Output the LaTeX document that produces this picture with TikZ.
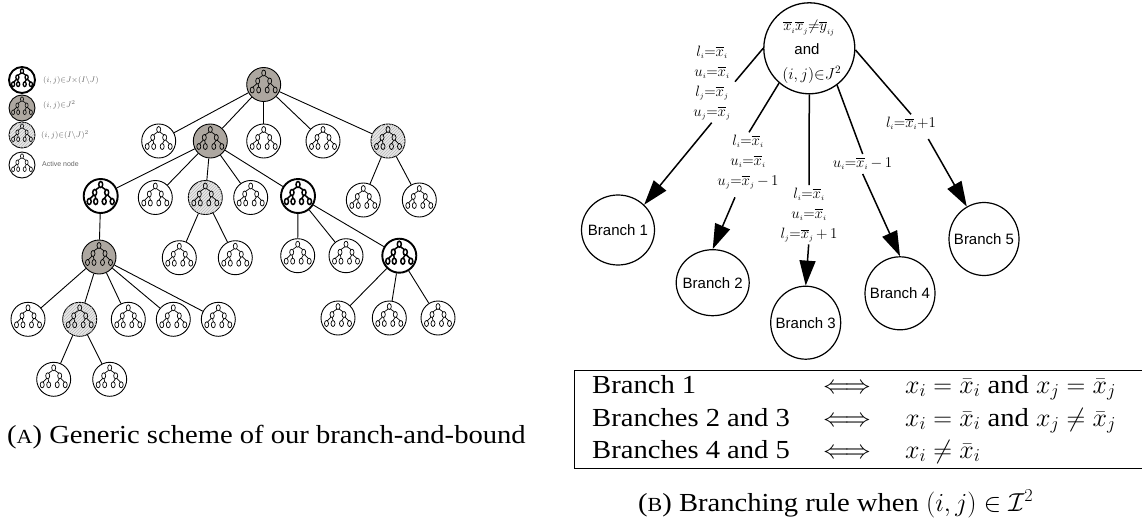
\documentclass[tikz,border=0pt]{standalone}
\usepackage{fix-cm}
\usepackage{amsmath,amssymb}
\usepackage[no-math]{fontspec}
\setmainfont{Liberation Serif}[FakeStretch=1.1]
\newfontfamily\sansf{Liberation Sans}
\usetikzlibrary{patterns,arrows.meta,shapes.geometric}
\definecolor{darkn}{RGB}{173,167,160}
\definecolor{hatchn}{RGB}{232,232,232}
\newcommand\sbs[1]{_{\scriptscriptstyle #1}}
\newcommand\ox[1]{\overline{x}\sbs{#1}}
\newcommand\eqn[3]{$#1\sbs{#2}{=}\ox{#3}$}
\newcommand\treenode[4]{\node[#1] (#3) at (#4) {}; \pic[#2] at (#3) {minitree};}
\tikzset{
  x=1pt,y=-1pt,
  wnode/.style={circle,draw,line width=.9pt,fill=white,minimum size=34pt,inner sep=0pt},
  dnode/.style={wnode,fill=darkn},
  hnode/.style={wnode,fill=hatchn,postaction={pattern=north east lines,pattern color=gray!55}},
  tnode/.style={wnode,line width=1.9pt},
  lw/.style={wnode,minimum size=26pt},
  ld/.style={dnode,minimum size=26pt},
  lh/.style={hnode,minimum size=26pt},
  lt/.style={tnode,minimum size=26pt},
  icon/.style={line width=.7pt},
  iconb/.style={line width=1.5pt},
  licon/.style={line width=.6pt,scale=.77},
  liconb/.style={line width=1.3pt,scale=.77},
  minitree/.pic={
    \draw (0,-11.5) ellipse [x radius=2,y radius=3];
    \foreach \px in {-6,6} \draw (\px,-3.5) ellipse [x radius=2,y radius=3];
    \foreach \px in {-11.5,-5,3.5,11.5} \draw (\px,5.5) ellipse [x radius=2,y radius=3];
    \draw (-1.2,-8.9)--(-5,-6.2) (1.2,-8.9)--(5,-6.2)
      (-7,-.9)--(-10.8,2.8) (-5.6,-.5)--(-5,2.5) (5.6,-.5)--(3.8,2.5) (7,-.9)--(10.8,2.8);
  },
  edge1/.style={line width=.9pt},
  bcirc/.style={ellipse,draw,line width=1.2pt,inner sep=0pt,label={[font=\sansf\fontsize{15}{18}\selectfont,inner sep=0pt]center:#1}},
  blink/.style={line width=1.5pt},
  barrow/.style={blink,-{Triangle[length=25pt,width=16pt]}},
  lab/.style={align=center,inner sep=0pt,font=\fontsize{15}{20}\selectfont},
  legend/.style={text=black!60,font=\fontsize{8}{10}\selectfont,anchor=west,inner sep=0pt},
  tabt/.style={font=\fontsize{26}{32}\selectfont,anchor=base west,inner sep=0pt},
  capt/.style={font=\fontsize{26}{32}\selectfont,anchor=base west,inner sep=0pt},
}
\begin{document}
\begin{tikzpicture}
\useasboundingbox (0,0) rectangle (1142,522);
% legend
\treenode{lt}{liconb}{l1}{22,80}
\treenode{ld}{licon}{l2}{22,108}
\treenode{lh}{licon}{l3}{22,135}
\treenode{lw}{licon}{l4}{22,165}
\node[legend] (lt1) at (43,80) {$(i,j){\in}J{\times}(I{\setminus}J)$};
\node[legend] (lt2) at (43,105) {$(i,j){\in}J^2$};
\node[legend] (lt3) at (41,135) {$(i,j){\in}(I{\setminus}J)^2$};
\node[legend,font=\sansf\fontsize{7}{9}\selectfont] (lt4) at (42,164) {Active node};
% tree
\treenode{dnode}{icon}{r}{263.7,84.5}
\treenode{wnode}{icon}{a1}{158.7,141}
\treenode{dnode}{icon}{a2}{210.3,141}
\treenode{wnode}{icon}{a3}{263.7,141}
\treenode{wnode}{icon}{a4}{323,141}
\treenode{hnode}{icon}{a5}{388,141}
\treenode{tnode}{iconb}{b1}{100.7,196}
\treenode{wnode}{icon}{b2}{155.3,197.5}
\treenode{hnode}{icon}{b3}{205.3,197.5}
\treenode{wnode}{icon}{b4}{250.7,197.5}
\treenode{tnode}{iconb}{b5}{298,196}
\treenode{wnode}{icon}{c1}{363.3,200}
\treenode{wnode}{icon}{c2}{419.3,200}
\treenode{dnode}{icon}{d1}{99,257}
\treenode{wnode}{icon}{d2}{179.3,257.7}
\treenode{wnode}{icon}{d3}{235.3,257.7}
\treenode{wnode}{icon}{d4}{297.7,255.7}
\treenode{wnode}{icon}{d5}{346,255.7}
\treenode{tnode}{iconb}{d6}{399.3,255.7}
\treenode{wnode}{icon}{e1}{28,319.3}
\treenode{hnode}{icon}{e2}{79.7,319.3}
\treenode{wnode}{icon}{e3}{128.3,319.3}
\treenode{wnode}{icon}{e4}{173.3,319.3}
\treenode{wnode}{icon}{e5}{218.3,319.3}
\treenode{wnode}{icon}{e6}{338,318}
\treenode{wnode}{icon}{e7}{389.3,318}
\treenode{wnode}{icon}{e8}{438,318}
\treenode{wnode}{icon}{f1}{53.7,379.3}
\treenode{wnode}{icon}{f2}{109.7,379.3}
\foreach \u/\v in {r/a1,r/a2,r/a3,r/a4,r/a5,a2/b1,a2/b2,a2/b3,a2/b4,a2/b5,a5/c1,a5/c2,b1/d1,b3/d2,b3/d3,b5/d4,b5/d5,b5/d6,d1/e1,d1/e2,d1/e3,d1/e4,d1/e5,d6/e6,d6/e7,d6/e8,e2/f1,e2/f2}
  \draw[edge1] (\u) -- (\v);
% branching
\node[circle,draw,line width=1.3pt,minimum size=91pt,inner sep=0pt] (m) at (809.3,48.3) {};
\node[inner sep=0pt,font=\fontsize{15}{16}\selectfont] (m1) at (809,28) {$\overline{x}\sbs{i}\overline{x}\sbs{j}{\neq}\overline{y}\sbs{ij}$};
\node[inner sep=0pt,font=\sansf\fontsize{15}{18}\selectfont] (m2) at (807,49) {and};
\node[inner sep=0pt,font=\fontsize{16}{18}\selectfont] (m3) at (811.7,75) {$(i,j){\in}J^2$};
\node[bcirc={Branch 1},minimum width=73pt,minimum height=70pt] (B1) at (618,230) {};
\node[bcirc={Branch 2},minimum width=73pt,minimum height=66pt] (B2) at (712.7,282.7) {};
\node[bcirc={Branch 3},minimum width=70pt,minimum height=73pt] (B3) at (805.7,322.7) {};
\node[bcirc={Branch 4},minimum width=70pt,minimum height=73pt] (B4) at (900,293.3) {};
\node[bcirc={Branch 5},minimum width=70pt,minimum height=73pt] (B5) at (984,239) {};
\node[lab] (L1) at (712,83) {\eqn{l}{i}{i}\\\eqn{u}{i}{i}\\\eqn{l}{j}{j}\\\eqn{u}{j}{j}};
\node[lab] (L2) at (748,162) {\eqn{l}{i}{i}\\\eqn{u}{i}{i}\\$u\sbs{j}{=}\ox{j}\,{-}\,1$};
\node[lab] (L3) at (809,215) {\eqn{l}{i}{i}\\\eqn{u}{i}{i}\\$l\sbs{j}{=}\ox{j}\,{+}\,1$};
\node[lab] (L4) at (862.5,163.6) {$u\sbs{i}{=}\ox{i}\,{-}\,1$};
\node[lab] (L5) at (911,123.3) {$l\sbs{i}{=}\ox{i}{+}1$};
\coordinate (g1a) at (735,81.7); \coordinate (g1b) at (711.7,122.7);
\coordinate (g2a) at (749,132.3); \coordinate (g2b) at (735,197.3);
\coordinate (g3a) at (809,185); \coordinate (g3b) at (808.7,244.3);
\coordinate (g4a) at (862.7,154); \coordinate (g4b) at (862.7,174);
\coordinate (g5a) at (911,114.3); \coordinate (g5b) at (928.3,139);
\draw[blink] (m.180) -- (g1a); \draw[barrow] (g1b) -- (B1.44);
\draw[blink] (m.229) -- (g2a); \draw[barrow] (g2b) -- (B2.90);
\draw[blink] (m.270) -- (g3a); \draw[barrow] (g3b) -- (B3.90);
\draw[blink] (m.307) -- (g4a); \draw[barrow] (g4b) -- (B4.90);
\draw[blink] (m.358) -- (g5a); \draw[barrow] (g5b) -- (B5.118);
% table
\node[draw,line width=1pt,minimum width=567.5pt,minimum height=98pt,inner sep=0pt,anchor=north west] (tb) at (574,370) {};
\node[tabt] (t1) at (592,393) {Branch 1};
\node[tabt] (t2) at (592,426) {Branches 2 and 3};
\node[tabt] (t3) at (592,458) {Branches 4 and 5};
\foreach \yy/\nm in {393/i1,426/i2,458/i3} \node[tabt] (\nm) at (823,\yy) {$\Longleftrightarrow$};
\node[tabt] (q1) at (905,393) {$x_i=\bar{x}_i$ and $x_j=\bar{x}_j$};
\node[tabt] (q2) at (905,426) {$x_i=\bar{x}_i$ and $x_j\neq\bar{x}_j$};
\node[tabt] (q3) at (905,458) {$x_i\neq\bar{x}_i$};
\node[capt] (ca) at (7,443) {({\fontsize{20}{24}\selectfont A}) Generic scheme of our branch-and-bound};
\node[capt] (cb) at (638,511) {({\fontsize{20}{24}\selectfont B}) Branching rule when $(i,j)\in\mathcal{I}^2$};
\end{tikzpicture}
\end{document}
